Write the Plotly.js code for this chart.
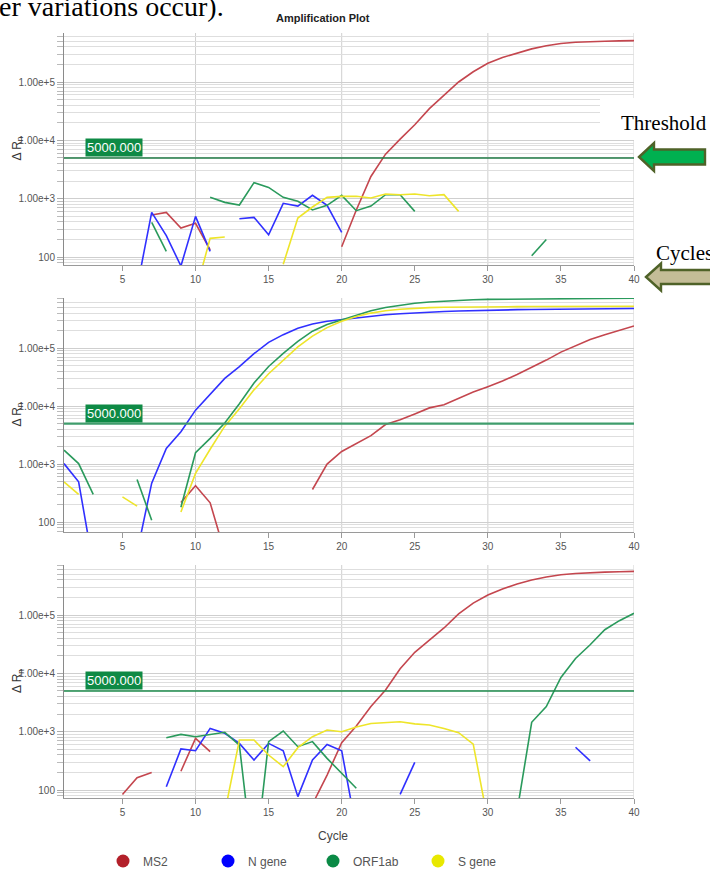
<!DOCTYPE html>
<html>
<head>
<meta charset="utf-8">
<script src="https://cdn.plot.ly/plotly-3.0.1.min.js"></script>
<style>
  html, body { margin: 0; padding: 0; background: #fff; }
  #chart { width: 710px; height: 869px; }
</style>
</head>
<body>
<div id="chart"></div>
<script>
const N = null;
const cycles = [1,2,3,4,5,6,7,8,9,10,11,12,13,14,15,16,17,18,19,20,21,22,23,24,25,26,27,28,29,30,31,32,33,34,35,36,37,38,39,40];
const seriesNames = ['MS2', 'N gene', 'ORF1ab', 'S gene'];
const threshold = 5000;
const xTickVals = [5,10,15,20,25,30,35,40];
const xGridVals = [10,20,30,40];
const yTickVals = [100, 1000, 10000, 100000];
const yTickText = ['100', '1.00e+3', '1.00e+4', '1.00e+5'];

// Panel 1 (top)
const ms2_top = [N,N,N,N,N,N,525,583,314,378,132,N,N,N,N,N,N,N,N,150,640,2400,5800,10500,18500,35000,60000,100000,150000,209000,263000,316000,370000,417000,457000,479000,495000,501000,507000,513000];
const n_top = [N,N,N,N,N,30,583,232,70,497,125,N,454,478,241,832,748,1140,770,264,N,N,N,N,N,N,N,N,N,N,N,N,N,N,N,N,N,N,N,N];
const orf_top = [N,N,N,N,N,N,393,125,N,N,1054,865,778,1880,1560,1054,900,640,770,1140,622,748,1170,1170,605,N,N,N,N,N,N,N,105,200,N,N,N,N,N,N];
const s_top = [N,N,N,N,N,N,N,N,N,25,209,220,N,N,N,75,466,720,1054,1097,1097,1026,1200,1170,1200,1120,1170,605,N,N,N,N,N,N,N,N,N,N,N,N];

// Panel 2 (middle)
const ms2_mid = [N,N,N,N,N,N,N,N,218,422,215,30,N,N,N,N,N,365,1000,1650,2300,3100,4800,5800,7300,9300,10500,13500,17500,21600,27000,35000,46000,62000,85000,110000,140000,170000,205000,240000];
const n_mid = [1020,495,18,N,N,30,470,1860,3600,8500,16000,30000,48000,80000,125000,170000,220000,260000,290000,310000,335000,355000,375000,390000,405000,415000,425000,435000,443000,450000,455000,458000,462000,465000,468000,470000,473000,475000,478000,480000];
const orf_mid = [1740,1020,300,N,N,545,108,N,180,1570,2770,5100,11000,25000,48000,81000,130000,195000,255000,305000,375000,440000,500000,550000,590000,620000,645000,665000,680000,690000,695000,700000,705000,708000,710000,712000,714000,716000,718000,720000];
const s_mid = [495,300,N,N,273,189,N,N,150,690,1800,4500,9000,19000,36000,62000,105000,160000,225000,290000,350000,400000,440000,465000,485000,497000,505000,510000,513000,515000,516000,517000,518000,519000,520000,521000,522000,523000,524000,525000];

// Panel 3 (bottom)
const ms2_bot = [N,N,N,N,84,163,200,N,210,770,454,N,N,N,N,N,N,57,180,650,1250,2700,5200,12000,23000,37000,60000,105000,160000,220000,280000,340000,400000,450000,490000,515000,535000,545000,553000,560000];
const n_bot = [N,N,N,N,N,N,N,114,505,472,1140,938,630,327,630,472,77,327,605,472,21,N,N,84,298,N,N,N,N,N,N,N,N,N,N,540,315,N,N,N];
const orf_bot = [N,N,N,N,N,N,N,789,900,820,900,975,590,4,676,1026,553,676,349,193,107,N,N,N,N,N,N,N,N,N,N,43,1450,2700,8500,18000,31000,56000,80000,107000];
const s_bot = [N,N,N,N,N,N,N,N,N,N,N,41,720,720,398,251,532,820,1066,1000,1200,1380,1430,1480,1360,1300,1130,960,610,30,N,N,N,N,N,N,N,N,N,N];

const panels = [
  {xa: 'x',  ya: 'y',  data: [ms2_top, n_top, orf_top, s_top], thrColor: '#1f7a45', thrWidth: 1.5},
  {xa: 'x2', ya: 'y2', data: [ms2_mid, n_mid, orf_mid, s_mid], thrColor: '#3f9d6c', thrWidth: 2.2},
  {xa: 'x3', ya: 'y3', data: [ms2_bot, n_bot, orf_bot, s_bot], thrColor: '#1d8a4b', thrWidth: 1.5}
];

const lineColors = ['#c4464e', '#3030ff', '#2a9a5c', '#eee52a'];
const legendColors = ['#b3202a', '#0000ff', '#0a8a45', '#e8e800'];

// layout geometry (pixels)
const W = 710, H = 869, ML = 64, MR = 76, MT = 33, MB = 71;
const PW = W - ML - MR, PH = H - MT - MB;
const px = X => (X - ML) / PW;
const py = Y => (H - MB - Y) / PH;

const traces = [];
panels.forEach(p => {
  p.data.forEach((vals, i) => {
    traces.push({
      type: 'scatter', mode: 'lines', x: cycles, y: vals,
      xaxis: p.xa, yaxis: p.ya, name: seriesNames[i], showlegend: false,
      connectgaps: false, hoverinfo: 'skip',
      line: {color: lineColors[i], width: 1.6}
    });
  });
});
seriesNames.forEach((nm, i) => {
  traces.push({
    type: 'scatter', mode: 'markers', x: [null], y: [null],
    xaxis: 'x3', yaxis: 'y3', name: nm, showlegend: true,
    marker: {color: legendColors[i], size: 13, symbol: 'circle'}
  });
});

// minor log tick values (style)
const minorVals = [];
for (let e = 1; e <= 5; e++) for (let m = 2; m <= 9; m++) minorVals.push(m * Math.pow(10, e));

const fontSans = 'Arial, "Liberation Sans", sans-serif';
const fontSerif = '"Times New Roman", "Liberation Serif", serif';

function xAxis(anchor) {
  return {
    anchor: anchor, range: [1, 40], tickvals: xTickVals, showgrid: false, zeroline: false,
    showline: true, linecolor: '#9a9a9a', linewidth: 1, ticks: 'outside', ticklen: 5,
    tickcolor: '#9a9a9a', tickfont: {family: fontSans, size: 10, color: '#555'}, fixedrange: true
  };
}
function yAxis(anchor, domain, range) {
  return {
    anchor: anchor, domain: domain, type: 'log', range: range,
    tickvals: yTickVals, ticktext: yTickText, showgrid: true, gridcolor: '#cfcfcf', gridwidth: 1,
    zeroline: false, showline: true, linecolor: '#8a8a8a', linewidth: 1,
    ticks: 'outside', ticklen: 6, tickcolor: '#aaa',
    tickfont: {family: fontSans, size: 10, color: '#555'},
    minor: {tickvals: minorVals, ticks: 'outside', ticklen: 6, tickcolor: '#bbb', showgrid: true, gridcolor: '#dedede', gridwidth: 1},
    fixedrange: true
  };
}

const shapes = [];
const annotations = [];
const yDomains = [[py(265), py(33)], [py(532), py(298)], [py(798), py(565)]];
const yRanges = [[1.863, 5.84], [1.83, 5.862], [1.863, 5.858]];

panels.forEach((p, k) => {
  const xd = p.xa + ' domain';
  const yd = p.ya + ' domain';
  xGridVals.forEach(v => {
    shapes.push({type: 'line', xref: p.xa, yref: yd, x0: v, x1: v, y0: 0, y1: 1,
      line: {color: '#cfcfcf', width: 1}, layer: 'below'});
  });
  shapes.push({type: 'line', xref: xd, yref: p.ya, x0: 0, x1: 1,
    y0: threshold, y1: threshold,
    line: {color: p.thrColor, width: p.thrWidth}, layer: 'above'});
  annotations.push({
    xref: p.xa, yref: p.ya, x: 2.42, y: Math.log10(threshold), xanchor: 'left', yanchor: 'bottom',
    text: threshold.toFixed(3), showarrow: false, bgcolor: '#0e8a45', borderpad: 1, yshift: 1,
    font: {family: fontSans, size: 13, color: '#ffffff'}
  });
  const yc = (yDomains[k][0] + yDomains[k][1]) / 2;
  annotations.push({
    xref: 'paper', yref: 'paper', x: px(17.5), y: yc, xanchor: 'center', yanchor: 'middle',
    textangle: -90, showarrow: false, text: 'Δ R<sub>n</sub>',
    font: {family: fontSans, size: 12, color: '#333'}
  });
});

// Threshold note box
shapes.push({type: 'rect', xref: 'paper', yref: 'paper', x0: px(600), x1: px(712), y0: py(140), y1: py(98),
  fillcolor: '#ffffff', line: {width: 0}, layer: 'above'});

function pathFrom(pts) {
  return 'M ' + pts.map(q => px(q[0]) + ',' + py(q[1])).join(' L ') + ' Z';
}
shapes.push({type: 'path', xref: 'paper', yref: 'paper', layer: 'above',
  path: pathFrom([[639,157],[654,143],[654,149.5],[705,149.5],[705,164.5],[654,164.5],[654,171]]),
  fillcolor: '#00b050', line: {color: '#4f6228', width: 2.4}});
shapes.push({type: 'path', xref: 'paper', yref: 'paper', layer: 'above',
  path: pathFrom([[646,277],[661,263.5],[661,270],[714,270],[714,284],[661,284],[661,290.5]]),
  fillcolor: '#c4bd97', line: {color: '#4f6228', width: 2.4}});

annotations.push({xref: 'paper', yref: 'paper', x: px(663.5), y: py(123), xanchor: 'center', yanchor: 'middle',
  text: 'Threshold', showarrow: false, font: {family: fontSerif, size: 21, color: '#000'}});
annotations.push({xref: 'paper', yref: 'paper', x: px(654), y: py(253), xanchor: 'left', yanchor: 'middle',
  text: 'Cycles', showarrow: false, font: {family: fontSerif, size: 21, color: '#000'}});
annotations.push({xref: 'paper', yref: 'paper', x: px(-3), y: py(6.5), xanchor: 'left', yanchor: 'middle',
  text: 'er variations occur).', showarrow: false, font: {family: fontSerif, size: 28, color: '#000'}});
annotations.push({xref: 'paper', yref: 'paper', x: px(323), y: py(18), xanchor: 'center', yanchor: 'middle',
  text: '<b>Amplification Plot</b>', showarrow: false, font: {family: fontSans, size: 11, color: '#222'}});
annotations.push({xref: 'paper', yref: 'paper', x: px(333), y: py(836), xanchor: 'center', yanchor: 'middle',
  text: 'Cycle', showarrow: false, font: {family: fontSans, size: 12, color: '#444'}});

const layout = {
  width: W, height: H,
  margin: {l: ML, r: MR, t: MT, b: MB, pad: 0, autoexpand: false},
  paper_bgcolor: '#ffffff', plot_bgcolor: '#ffffff',
  showlegend: true,
  legend: {orientation: 'h', x: px(103), xanchor: 'left', y: py(861), yanchor: 'middle',
    entrywidth: 60, font: {family: fontSans, size: 12, color: '#555'}, bgcolor: 'rgba(0,0,0,0)'},
  xaxis: xAxis('y'), xaxis2: xAxis('y2'), xaxis3: xAxis('y3'),
  yaxis: yAxis('x', yDomains[0], yRanges[0]),
  yaxis2: yAxis('x2', yDomains[1], yRanges[1]),
  yaxis3: yAxis('x3', yDomains[2], yRanges[2]),
  shapes: shapes, annotations: annotations,
  hovermode: false
};

Plotly.newPlot('chart', traces, layout, {displayModeBar: false, staticPlot: true});
</script>
</body>
</html>
